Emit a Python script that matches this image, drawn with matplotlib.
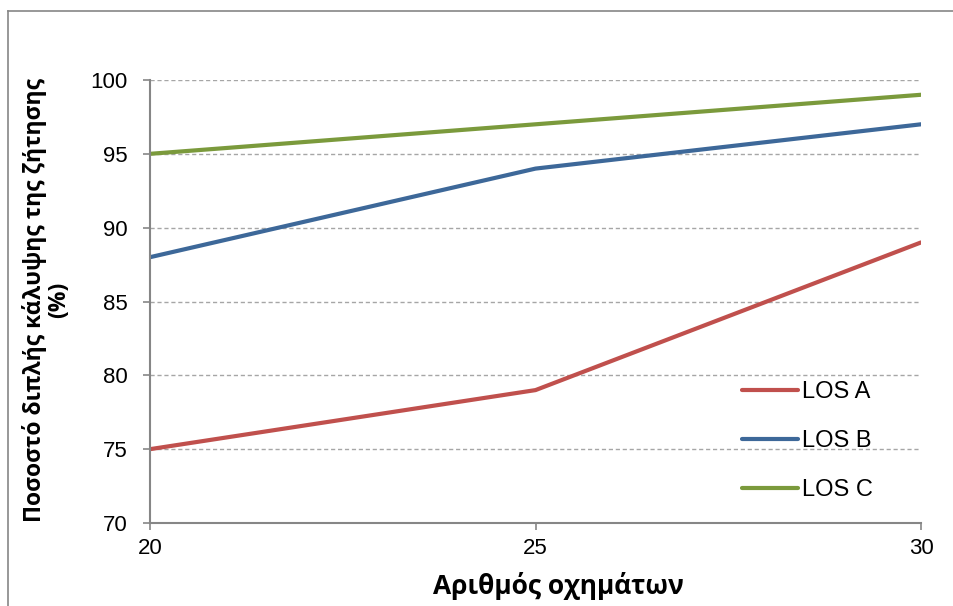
import matplotlib.pyplot as plt
from matplotlib.lines import Line2D

# vehicles vs share of demand covered twice
vehicles = [20, 25, 30]
los_a = [75, 79, 89]
los_b = [88, 94, 97]
los_c = [95, 97, 99]
series_names = ["LOS A", "LOS B", "LOS C"]
colors = ["#C0504D", "#3D6899", "#7B9A3C"]
y_ticks = [70, 75, 80, 85, 90, 95, 100]
x_ticks = [20, 25, 30]

plt.rcParams["font.family"] = ["Liberation Sans", "DejaVu Sans"]

fig = plt.figure(figsize=(9.54, 6.06), dpi=100)
ax = fig.add_axes([150 / 954, 1 - 523 / 606, 771 / 954, 443 / 606])

for vals, name, col in zip([los_a, los_b, los_c], series_names, colors):
    ax.plot(vehicles, vals, color=col, lw=3, label=name, solid_capstyle="round")

ax.set_xlim(20, 30)
ax.set_ylim(70, 100)
ax.set_xticks(x_ticks)
ax.set_yticks(y_ticks)
ax.tick_params(labelsize=16, colors="#868686", labelcolor="black", length=5, width=1.2)
ax.tick_params(axis="x", pad=6)
ax.tick_params(axis="y", pad=11)

ax.grid(axis="y", color="#A6A6A6", lw=1, ls=(0, (3, 2)))
ax.set_axisbelow(True)
for s in ["top", "right"]:
    ax.spines[s].set_visible(False)
for s in ["left", "bottom"]:
    ax.spines[s].set_color("#868686")
    ax.spines[s].set_linewidth(1.5)

label_font = ["Open Sans", "DejaVu Sans"]
fig.text(558 / 954, 1 - 586 / 606, "Αριθμός οχημάτων", ha="center", va="center",
         fontsize=19, fontweight="bold", family=label_font)
fig.text(47 / 954, 1 - 300 / 606, "Ποσοστό διπλής κάλυψης της ζήτησης\n(%)",
         ha="center", va="center", rotation=90, fontsize=16.5, fontweight="bold",
         family=label_font, linespacing=1.0)

ax.legend(loc="upper left", bbox_to_anchor=(730 / 954, 1 - 369 / 606),
          bbox_transform=fig.transFigure, frameon=False, fontsize=17,
          handlelength=2.4, handletextpad=0.15, labelspacing=1.15, borderpad=0)

# outer chart frame
fig.add_artist(Line2D([8 / 954, 8 / 954], [0, 1 - 11 / 606], color="#868686", lw=1.2))
fig.add_artist(Line2D([8 / 954, 1], [1 - 11 / 606, 1 - 11 / 606], color="#868686", lw=1.2))

fig.savefig("out.png", dpi=100)
